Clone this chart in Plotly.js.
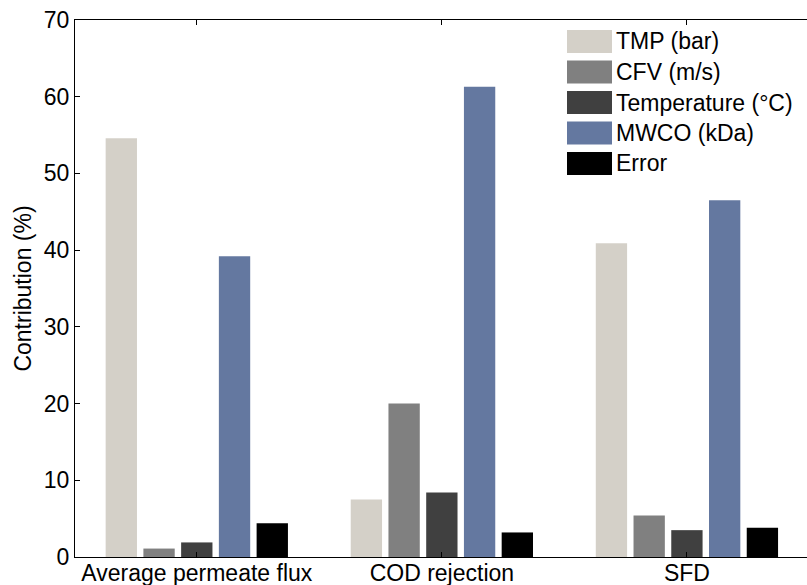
<!DOCTYPE html>
<html>
<head>
<meta charset="utf-8">
<script src="https://cdn.plot.ly/plotly-3.0.1.min.js"></script>
<style>html,body{margin:0;padding:0;background:#fff;overflow:hidden;}#chart{width:807px;height:585px;}</style>
</head>
<body>
<div id="chart"></div>
<script>
// Data
const categories = ["Average permeate flux", "COD rejection", "SFD"];
const seriesNames = ["TMP (bar)", "CFV (m/s)", "Temperature (°C)", "MWCO (kDa)", "Error"];
const tmpValues = [54.6, 7.5, 40.9];
const cfvValues = [1.1, 20.0, 5.4];
const temperatureValues = [1.9, 8.4, 3.5];
const mwcoValues = [39.2, 61.3, 46.5];
const errorValues = [4.4, 3.2, 3.8];
const yTicks = [0, 10, 20, 30, 40, 50, 60, 70];

const seriesValues = [tmpValues, cfvValues, temperatureValues, mwcoValues, errorValues];
const colors = ["#d4d0c8", "#808080", "#404040", "#6478a0", "#000000"];

const FONT = "Liberation Sans, Arial, Helvetica, sans-serif";
const W = 807, H = 585;
const M = {l: 75, r: 0, t: 20, b: 28};
const plotW = W - M.l - M.r, plotH = H - M.t - M.b;

const traces = seriesNames.map((name, i) => ({
  type: "bar",
  name: name,
  x: categories,
  y: seriesValues[i],
  marker: {color: colors[i], line: {width: 0}},
  hoverinfo: "x+y+name"
}));

// custom legend (large swatches) in paper coords
const px = x => (x - M.l) / plotW;
const py = y => (M.t + plotH - y) / plotH;
const shapes = [], annotations = [];
seriesNames.forEach((name, i) => {
  const top = 30 + 30.5 * i;
  shapes.push({type: "rect", xref: "paper", yref: "paper",
    x0: px(567), x1: px(612), y0: py(top + 23), y1: py(top),
    fillcolor: colors[i], line: {width: 0}});
  annotations.push({xref: "paper", yref: "paper", x: px(614), y: py(top + 11.5),
    xanchor: "left", yanchor: "middle", showarrow: false, text: name,
    font: {family: FONT, size: 23, color: "#000"}});
});

const layout = {
  width: W, height: H,
  margin: M,
  paper_bgcolor: "#fff", plot_bgcolor: "#fff",
  font: {family: FONT, size: 23, color: "#000"},
  barmode: "group",
  bargap: 0.23,
  bargroupgap: 0.17,
  showlegend: false,
  xaxis: {
    type: "category",
    range: [-0.497, 2.49],
    showline: true, linecolor: "#000", linewidth: 1,
    mirror: "ticks",
    ticks: "inside", ticklen: 5, tickcolor: "#000",
    showgrid: false, zeroline: false,
    ticklabelstandoff: -5,
    tickfont: {family: FONT, size: 23, color: "#000"}
  },
  yaxis: {
    range: [0, 70],
    tickvals: yTicks,
    showline: true, linecolor: "#000", linewidth: 1,
    ticks: "inside", ticklen: 5, tickcolor: "#000",
    showgrid: false, zeroline: false,
    ticklabelstandoff: 0,
    tickfont: {family: FONT, size: 23, color: "#000"},
    title: {text: "Contribution (%)", font: {family: FONT, size: 23, color: "#000"}, standoff: 5}
  },
  yaxis2: {
    overlaying: "y", side: "right", range: [0, 70], tickvals: yTicks,
    showticklabels: false, showline: false, ticks: "inside", ticklen: 5,
    tickcolor: "#000", showgrid: false, zeroline: false
  },
  shapes: shapes,
  annotations: annotations
};

Plotly.newPlot("chart", traces, layout, {displayModeBar: false, staticPlot: true});
</script>
</body>
</html>
